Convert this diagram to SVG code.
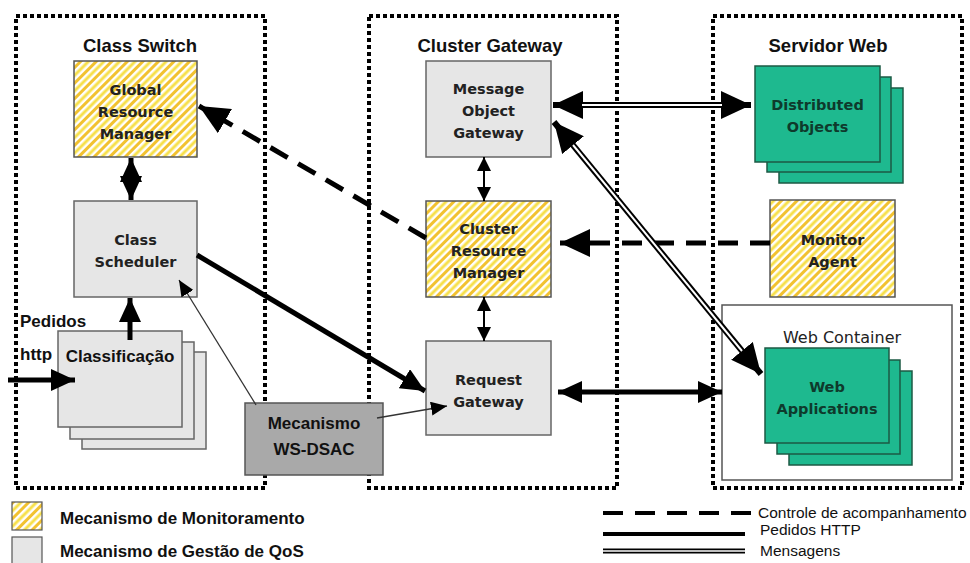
<svg xmlns="http://www.w3.org/2000/svg" width="970" height="563" viewBox="0 0 970 563">
<defs>
  <pattern id="stripes" patternUnits="userSpaceOnUse" width="11" height="11" patternTransform="rotate(45)">
    <rect width="11" height="11" fill="#ffffff"/>
    <rect x="0" width="3" height="11" fill="#f2c230"/>
    <rect x="5.5" width="3" height="11" fill="#f7e04a"/>
  </pattern>
  <marker id="big" markerUnits="userSpaceOnUse" markerWidth="30" markerHeight="28" refX="30" refY="14" orient="auto-start-reverse">
    <path d="M0,0 L30,14 L0,28 z" fill="#000"/>
  </marker>
  <marker id="med" markerUnits="userSpaceOnUse" markerWidth="24" markerHeight="22" refX="24" refY="11" orient="auto-start-reverse">
    <path d="M0,0 L24,11 L0,22 z" fill="#000"/>
  </marker>
  <marker id="small" markerUnits="userSpaceOnUse" markerWidth="14" markerHeight="14" refX="14" refY="7" orient="auto-start-reverse">
    <path d="M0,0 L14,7 L0,14 z" fill="#000"/>
  </marker>
  <marker id="thin" markerUnits="userSpaceOnUse" markerWidth="16" markerHeight="14" refX="16" refY="7" orient="auto-start-reverse">
    <path d="M0,0 L16,7 L0,14 z" fill="#000"/>
  </marker>
  <style>
    .cont{fill:none;stroke:#000;stroke-width:4;stroke-dasharray:4 3}
    .title{font-family:"Liberation Sans",Arial,sans-serif;font-weight:bold;font-size:18.5px;fill:#111;text-anchor:middle}
    .gray{fill:#e6e6e6;stroke:#666;stroke-width:1.5}
    .mon{fill:url(#stripes);stroke:#555;stroke-width:1.5}
    .green{fill:#1eb98f;stroke:#1c5a44;stroke-width:1.5}
    .nt{font-family:"DejaVu Sans",Verdana,sans-serif;font-weight:bold;font-size:14.5px;fill:#222;text-anchor:middle}
    .gt{font-family:"DejaVu Sans",Verdana,sans-serif;font-weight:bold;font-size:14.5px;fill:#0e3a2c;text-anchor:middle}
    .at{font-family:"Liberation Sans",Arial,sans-serif;font-weight:bold;font-size:17px;fill:#111}
    .lt{font-family:"Liberation Sans",Arial,sans-serif;font-size:15.5px;fill:#111}
    .thick{stroke:#000;stroke-width:5;fill:none}
    .dash{stroke:#000;stroke-width:5;fill:none;stroke-dasharray:20 12}
    .dbl{stroke:#000;stroke-width:6;fill:none}
    .dblw{stroke:#fff;stroke-width:2;fill:none}
    .tl{stroke:#333;stroke-width:1.3;fill:none}
  </style>
</defs>
<rect width="970" height="563" fill="#ffffff"/>

<g id="class-switch">
  <rect class="cont" x="16" y="16" width="249" height="472"/>
  <text class="title" x="140" y="52">Class Switch</text>
</g>
<g id="cluster-gateway">
  <rect class="cont" x="369" y="16" width="248" height="472"/>
  <text class="title" x="490" y="52">Cluster Gateway</text>
</g>
<g id="servidor-web">
  <rect class="cont" x="713" y="16" width="249" height="472"/>
  <text class="title" x="828" y="52">Servidor Web</text>
</g>

<g id="web-container">
  <rect x="722" y="305" width="230" height="175" fill="#fff" stroke="#555" stroke-width="1.5"/>
  <text x="842" y="343" font-family="DejaVu Sans, Verdana, sans-serif" font-size="16px" fill="#222" text-anchor="middle">Web Container</text>
</g>

<g id="global-resource-manager">
  <rect class="mon" x="74" y="61" width="123" height="96"/>
  <text class="nt" x="135.5" y="95">Global</text>
  <text class="nt" x="135.5" y="117">Resource</text>
  <text class="nt" x="135.5" y="139">Manager</text>
</g>
<g id="class-scheduler">
  <rect class="gray" x="74" y="201" width="123" height="96"/>
  <text class="nt" x="135.5" y="245">Class</text>
  <text class="nt" x="135.5" y="267">Scheduler</text>
</g>
<g id="classificacao">
  <rect class="gray" x="82" y="352" width="124" height="97"/>
  <rect class="gray" x="70" y="342" width="124" height="97"/>
  <rect class="gray" x="58" y="331" width="124" height="96"/>
  <text class="at" x="120" y="362" text-anchor="middle">Classificação</text>
</g>
<g id="pedidos-label">
  <text class="at" x="20" y="327" font-size="16px">Pedidos</text>
  <text class="at" x="20" y="360" font-size="16px">http</text>
</g>
<g id="mecanismo-ws-dsac">
  <rect x="245" y="403" width="138" height="72" fill="#a9a9a9" stroke="#555" stroke-width="1.5"/>
  <text class="at" x="314" y="429" text-anchor="middle">Mecanismo</text>
  <text class="at" x="314" y="455" text-anchor="middle" font-size="18px">WS-DSAC</text>
</g>

<g id="message-object-gateway">
  <rect class="gray" x="426" y="61" width="125" height="96"/>
  <text class="nt" x="488.5" y="94">Message</text>
  <text class="nt" x="488.5" y="116">Object</text>
  <text class="nt" x="488.5" y="138">Gateway</text>
</g>
<g id="cluster-resource-manager">
  <rect class="mon" x="426" y="201" width="125" height="96"/>
  <text class="nt" x="488.5" y="234">Cluster</text>
  <text class="nt" x="488.5" y="256">Resource</text>
  <text class="nt" x="488.5" y="278">Manager</text>
</g>
<g id="request-gateway">
  <rect class="gray" x="426" y="341" width="125" height="94"/>
  <text class="nt" x="488.5" y="385">Request</text>
  <text class="nt" x="488.5" y="407">Gateway</text>
</g>

<g id="distributed-objects">
  <rect class="green" x="779" y="88" width="124" height="95"/>
  <rect class="green" x="767" y="77" width="124" height="95"/>
  <rect class="green" x="755" y="66" width="125" height="96"/>
  <text class="gt" x="817.5" y="110">Distributed</text>
  <text class="gt" x="817.5" y="132">Objects</text>
</g>
<g id="monitor-agent">
  <rect class="mon" x="770" y="200" width="125" height="97"/>
  <text class="nt" x="832.5" y="245">Monitor</text>
  <text class="nt" x="832.5" y="267">Agent</text>
</g>
<g id="web-applications">
  <rect class="green" x="789" y="371" width="123" height="94"/>
  <rect class="green" x="777" y="360" width="123" height="94"/>
  <rect class="green" x="765" y="348" width="124" height="95"/>
  <text class="gt" x="827" y="392">Web</text>
  <text class="gt" x="827" y="414">Applications</text>
</g>

<g id="connectors">
  <!-- GRM <-> Class Scheduler -->
  <line class="thick" x1="131" y1="158" x2="131" y2="200" marker-start="url(#med)" marker-end="url(#med)"/>
  <!-- Classificacao -> Class Scheduler -->
  <line class="thick" x1="130" y1="340" x2="130" y2="298" marker-end="url(#med)"/>
  <!-- incoming http -->
  <line class="thick" x1="8" y1="380" x2="75" y2="380" marker-end="url(#med)"/>
  <!-- Class Scheduler -> Request Gateway -->
  <line class="thick" x1="197" y1="255" x2="425" y2="391" marker-end="url(#med)"/>
  <!-- Mecanismo -> Class Scheduler -->
  <line class="tl" x1="256" y1="405" x2="179" y2="280" marker-end="url(#thin)"/>
  <!-- Mecanismo -> Request Gateway -->
  <line class="tl" x1="377" y1="418" x2="447" y2="406" marker-end="url(#thin)"/>
  <!-- MOG <-> CRM -->
  <line stroke="#000" stroke-width="2" x1="484" y1="157" x2="484" y2="201" marker-start="url(#small)" marker-end="url(#small)"/>
  <!-- CRM <-> RG -->
  <line stroke="#000" stroke-width="2" x1="484" y1="297" x2="484" y2="341" marker-start="url(#small)" marker-end="url(#small)"/>
  <!-- CRM -> GRM dashed -->
  <line class="dash" x1="426" y1="238" x2="199" y2="106" marker-end="url(#big)"/>
  <!-- Monitor -> CRM dashed -->
  <line class="dash" x1="770" y1="243" x2="560" y2="243" marker-end="url(#big)"/>
  <!-- RG <-> Web Container -->
  <line class="thick" x1="558" y1="392" x2="722" y2="392" marker-start="url(#med)" marker-end="url(#med)"/>
  <!-- MOG <-> Distributed Objects (double) -->
  <line class="dbl" x1="553" y1="105" x2="751" y2="105" marker-start="url(#big)" marker-end="url(#big)"/>
  <line class="dblw" x1="582" y1="105" x2="722" y2="105"/>
  <!-- MOG <-> Web Applications (double) -->
  <line class="dbl" x1="554" y1="122" x2="761" y2="374" marker-start="url(#big)" marker-end="url(#big)"/>
  <line class="dblw" x1="573" y1="145" x2="742" y2="351"/>
</g>

<g id="legend">
  <rect x="12" y="502" width="30" height="28" fill="url(#stripes)" stroke="#555" stroke-width="1.2"/>
  <text class="at" x="60" y="524">Mecanismo de Monitoramento</text>
  <rect x="12" y="537" width="30" height="30" fill="#e6e6e6" stroke="#555" stroke-width="1.2"/>
  <text class="at" x="60" y="557">Mecanismo de Gestão de QoS</text>
  <line x1="603" y1="513" x2="752" y2="513" stroke="#000" stroke-width="4" stroke-dasharray="20 12"/>
  <text class="lt" x="758" y="518">Controle de acompanhamento</text>
  <line x1="603" y1="534" x2="745" y2="534" stroke="#000" stroke-width="4"/>
  <text class="lt" x="760" y="535">Pedidos HTTP</text>
  <line x1="603" y1="551" x2="745" y2="551" stroke="#000" stroke-width="5"/>
  <line x1="603" y1="551" x2="745" y2="551" stroke="#fff" stroke-width="1.6"/>
  <text class="lt" x="760" y="556">Mensagens</text>
</g>
</svg>
